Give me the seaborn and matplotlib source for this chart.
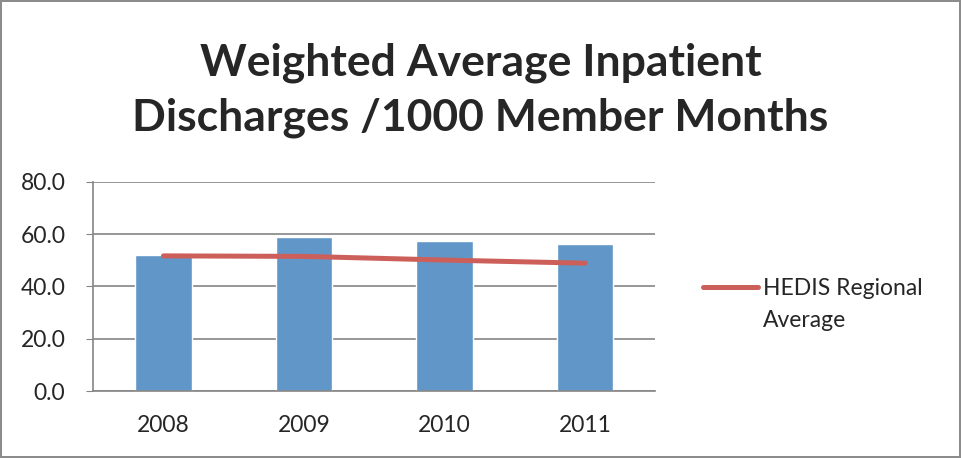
import matplotlib
matplotlib.use("Agg")
import matplotlib.pyplot as plt
import seaborn as sns
import pandas as pd
import numpy as np

years = ["2008", "2009", "2010", "2011"]
discharges = [52.0, 58.9, 57.2, 56.4]
hedis_avg = [51.7, 51.5, 50.1, 48.9]
yticks = [0, 20, 40, 60, 80]
title = "Weighted Average Inpatient\nDischarges /1000 Member Months"
legend_label_1 = "HEDIS Regional"
legend_label_2 = "Average"

sns.set_style("white")
plt.rcParams["font.family"] = ["Lato", "DejaVu Sans"]

df = pd.DataFrame({"year": years, "discharges": discharges, "hedis": hedis_avg})
df["pos"] = np.arange(len(years))

fig = plt.figure(figsize=(9.61, 4.58), dpi=100)
fig.patch.set_edgecolor("#8c8c8c")
fig.patch.set_linewidth(1.5)
ax = fig.add_axes([0.097, 0.146, 0.585, 0.457])

sns.barplot(data=df, x="year", y="discharges", color="#6096C8", width=0.4,
            saturation=1, ax=ax, zorder=2)
sns.lineplot(data=df, x="pos", y="hedis", color="#CD5F5A", linewidth=3.6,
             ax=ax, zorder=3, label=legend_label_1, solid_capstyle="round")

ax.set_ylim(0, 80)
ax.set_xlim(-0.5, 3.5)
ax.set_yticks(yticks)
ax.set_yticklabels([f"{v:.1f}" for v in yticks])
ax.set_xticks(df["pos"])
ax.set_xticklabels(years)
ax.set_xlabel("")
ax.set_ylabel("")
ax.yaxis.grid(True, color="#858585", linewidth=1.2)
ax.set_axisbelow(True)
for s in ["top", "right"]:
    ax.spines[s].set_visible(False)
for s in ["left", "bottom"]:
    ax.spines[s].set_color("#858585")
    ax.spines[s].set_linewidth(1.2)
ax.tick_params(axis="y", which="both", left=True, length=5, color="#858585",
               labelsize=16.5, pad=15)
ax.tick_params(axis="x", bottom=False, labelsize=16.5, pad=14)

leg = ax.legend(loc="center left", bbox_to_anchor=(1.085, 0.488), frameon=False,
                fontsize=16.5, handlelength=2.4, handletextpad=0.2,
                borderaxespad=0, borderpad=0)
leg.get_lines()[0].set_linewidth(3.6)

fig.canvas.draw()
t_ext = leg.get_texts()[0].get_window_extent()
fx = t_ext.x0 / fig.bbox.width
fy = (t_ext.y0 - 1.25 * 16.5 * 100 / 72 - 3) / fig.bbox.height
fig.text(fx, fy, legend_label_2, ha="left", va="bottom", fontsize=16.5)

fig.text(0.5, 0.803, title, ha="center", va="center", fontsize=32,
         fontweight="bold", linespacing=1.45)

fig.savefig("out.png", dpi=100, edgecolor=fig.get_edgecolor())
